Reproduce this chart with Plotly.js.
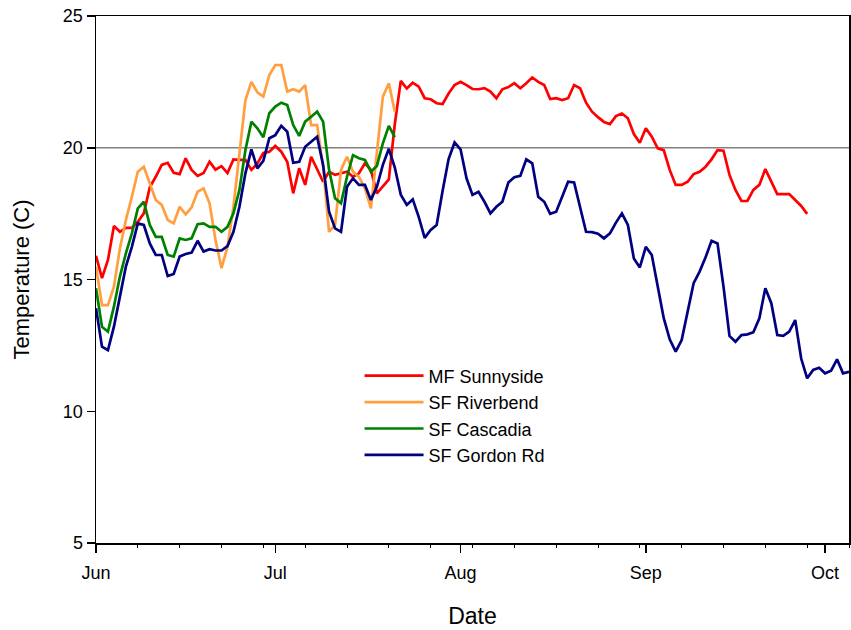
<!DOCTYPE html>
<html>
<head>
<meta charset="utf-8">
<script src="https://cdn.plot.ly/plotly-3.0.1.min.js"></script>
<style>html,body{margin:0;padding:0;background:#fff}</style>
</head>
<body>
<div id="chart" style="width:851px;height:630px"></div>
<script>
// Daily mean water temperature (C), one value per day starting 1 June
const startDate = [2010, 5, 1];

const sunnyside = [
  15.9, 15.05, 15.74, 17.03, 16.81, 16.96, 16.96, 17.19, 17.51, 18.5,
  18.9, 19.35, 19.43, 19.05, 19.0, 19.6, 19.16, 18.93, 19.04, 19.47,
  19.17, 19.3, 19.04, 19.56, 19.54, 19.54, 19.16, 19.4, 19.8, 19.85,
  20.07, 19.85, 19.47, 18.27, 19.22, 18.59, 19.66, 19.16, 18.71, 19.09,
  18.97, 19.03, 19.09, 18.9, 19.03, 19.41, 19.16, 18.27, 18.52, 18.8,
  20.9, 22.54, 22.25, 22.47, 22.32, 21.88, 21.84, 21.69, 21.66, 22.06,
  22.38, 22.5, 22.38, 22.23, 22.22, 22.26, 22.13, 21.88, 22.22, 22.3,
  22.45, 22.26, 22.45, 22.67, 22.5, 22.38, 21.85, 21.88, 21.81, 21.88,
  22.38, 22.26, 21.71, 21.37, 21.16, 20.98, 20.9, 21.2, 21.3, 21.12,
  20.52, 20.19, 20.74, 20.42, 19.98, 19.91, 19.16, 18.59, 18.59, 18.71,
  19.0, 19.09, 19.28, 19.56, 19.91, 19.89, 18.97, 18.4, 17.98, 17.98,
  18.4, 18.59, 19.19, 18.71, 18.24, 18.24, 18.24, 18.02, 17.79, 17.49
];

const riverbend = [
  15.49, 14.03, 14.03, 14.73, 16.18, 17.26, 18.14, 19.09, 19.28, 18.65,
  18.02, 17.83, 17.26, 17.13, 17.76, 17.47, 17.74, 18.33, 18.46, 17.89,
  16.5, 15.43, 16.24, 17.76, 19.78, 21.8, 22.5, 22.1, 21.94, 22.76,
  23.14, 23.14, 22.13, 22.22, 22.13, 22.38, 20.86, 20.86, 19.28, 16.81,
  17.07, 19.16, 19.66, 19.09, 18.9, 18.46, 17.7, 19.79, 21.94, 22.45,
  21.37
];

const cascadia = [
  14.67, 13.21, 13.02, 13.97, 15.11, 15.99, 16.75, 17.7, 17.95, 17.07,
  16.62, 16.62, 15.93, 15.87, 16.56, 16.5, 16.56, 17.1, 17.13, 17.0,
  17.0, 16.81, 17.0, 17.51, 18.4, 19.91, 20.99, 20.74, 20.4, 21.31,
  21.56, 21.71, 21.62, 20.86, 20.45, 20.99, 21.18, 21.37, 20.99, 19.16,
  18.08, 17.89, 18.9, 19.72, 19.6, 19.54, 19.09, 19.31, 20.17, 20.83,
  20.4
];

const gordonRd = [
  13.91, 12.45, 12.32, 13.21, 14.35, 15.49, 16.24, 17.13, 17.07, 16.37,
  15.93, 15.93, 15.13, 15.21, 15.87, 15.97, 16.02, 16.47, 16.06, 16.15,
  16.1, 16.1, 16.27, 16.81, 17.76, 19.03, 19.94, 19.22, 19.5, 20.36,
  20.48, 20.83, 20.61, 19.43, 19.47, 20.04, 20.23, 20.42, 19.35, 17.57,
  16.94, 16.81, 18.52, 18.84, 18.59, 18.59, 18.02, 18.52, 19.35, 19.96,
  19.25, 18.22, 17.83, 18.04, 17.38, 16.58, 16.88, 17.07, 18.37, 19.57,
  20.2, 19.94, 18.84, 18.21, 18.33, 17.95, 17.51, 17.76, 17.95, 18.68,
  18.88, 18.93, 19.56, 19.41, 18.14, 17.95, 17.49, 17.57, 18.14, 18.71,
  18.68, 17.76, 16.81, 16.8, 16.74, 16.56, 16.75, 17.16, 17.51, 17.07,
  15.8, 15.46, 16.24, 15.93, 14.79, 13.53, 12.73, 12.26, 12.7, 13.84,
  14.86, 15.3, 15.84, 16.47, 16.37, 14.73, 12.86, 12.64, 12.89, 12.92,
  13.0, 13.53, 14.67, 14.1, 12.89, 12.86, 13.02, 13.46, 12.0, 11.25,
  11.57, 11.65, 11.44, 11.54, 11.97, 11.44, 11.5
];

const siteNames = ['MF Sunnyside', 'SF Riverbend', 'SF Cascadia', 'SF Gordon Rd'];
const siteColors = ['#ff0000', '#ff9f3f', '#008000', '#000080'];
const yTicks = [5, 10, 15, 20, 25];
const monthLabels = ['Jun', 'Jul', 'Aug', 'Sep', 'Oct'];

function dayDate(i) {
  const d = new Date(Date.UTC(startDate[0], startDate[1], startDate[2] + i));
  return d.toISOString().slice(0, 10);
}
function monthStart(m) {
  const d = new Date(Date.UTC(startDate[0], startDate[1] + m, 1));
  return d.toISOString().slice(0, 10);
}

const font = 'Liberation Sans, Arial, Helvetica, sans-serif';
const series = [sunnyside, riverbend, cascadia, gordonRd];

const traces = series.map((vals, k) => ({
  type: 'scatter',
  mode: 'lines',
  name: siteNames[k],
  x: vals.map((_, i) => dayDate(i)),
  y: vals,
  line: { color: siteColors[k], width: 2.7 },
  hoverinfo: 'x+y+name'
}));

const layout = {
  width: 851,
  height: 630,
  margin: { l: 96, r: 2, t: 16, b: 87 },
  paper_bgcolor: '#fff',
  plot_bgcolor: '#fff',
  font: { family: font, size: 18, color: '#000' },
  showlegend: true,
  legend: {
    x: 0.350, xanchor: 'left',
    y: 0.352, yanchor: 'top',
    bgcolor: 'rgba(0,0,0,0)',
    font: { family: font, size: 18, color: '#000' },
    itemwidth: 59,
    tracegroupgap: 0
  },
  xaxis: {
    type: 'date',
    range: [dayDate(0), dayDate(126)],
    tickvals: monthLabels.map((_, m) => monthStart(m)),
    ticktext: monthLabels,
    ticks: 'outside', ticklen: 8, tickwidth: 1.5, tickcolor: '#000',
    ticklabelstandoff: 5,
    minor: { ticks: 'outside', ticklen: 3, tickwidth: 1, tickcolor: '#000',
             dtick: 7 * 86400000, tick0: dayDate(0) },
    showgrid: false, zeroline: false,
    showline: true, linecolor: '#000', linewidth: 1.5, mirror: true,
    tickfont: { family: font, size: 18 },
    title: { text: 'Date', font: { family: font, size: 23 }, standoff: 26 }
  },
  yaxis: {
    range: [5, 25],
    tickvals: yTicks,
    ticks: 'outside', ticklen: 8, tickwidth: 1.5, tickcolor: '#000',
    showgrid: false, zeroline: false,
    showline: true, linecolor: '#000', linewidth: 1.5, mirror: true,
    tickfont: { family: font, size: 18 },
    title: { text: 'Temperature (C)', font: { family: font, size: 22 }, standoff: 27 }
  },
  shapes: [{
    type: 'line', xref: 'paper', x0: 0, x1: 1, yref: 'y', y0: 20, y1: 20,
    line: { color: '#808080', width: 1.5 }, layer: 'below'
  }]
};

Plotly.newPlot('chart', traces, layout, { displayModeBar: false, staticPlot: true });
</script>
</body>
</html>
